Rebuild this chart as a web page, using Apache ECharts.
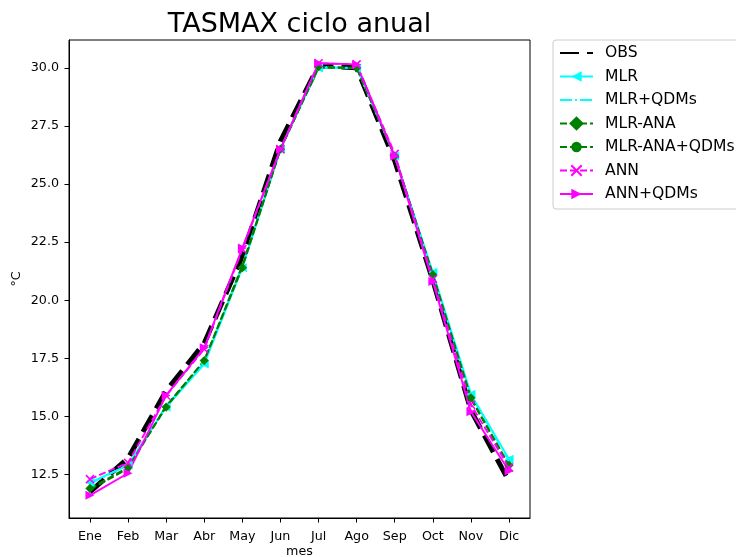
<!DOCTYPE html>
<html>
<head>
<meta charset="utf-8">
<script src="https://cdn.jsdelivr.net/npm/echarts@6/dist/echarts.min.js"></script>
<style>
  html, body { margin: 0; padding: 0; background: #fff; }
  #chart { width: 736px; height: 557px; }
</style>
</head>
<body>
<div id="chart"></div>
<script>
// Monthly mean of daily maximum temperature (°C), observed vs. downscaling methods
const months = ['Ene', 'Feb', 'Mar', 'Abr', 'May', 'Jun', 'Jul', 'Ago', 'Sep', 'Oct', 'Nov', 'Dic'];
const yTicks = [12.5, 15.0, 17.5, 20.0, 22.5, 25.0, 27.5, 30.0];

const obs        = [11.75, 13.2, 16.1, 18.15, 21.9, 26.85, 30.1, 30.0, 26.0, 20.85, 15.25, 12.2];
const mlr        = [12.15, 12.9, 15.4, 17.25, 21.4, 26.5, 30.0, 30.0, 26.2, 21.2, 15.95, 13.15];
const mlrQdm     = [12.1, 12.9, 15.45, 17.3, 21.5, 26.5, 30.05, 30.0, 26.2, 21.1, 15.9, 13.1];
const mlrAna     = [11.9, 12.8, 15.4, 17.4, 21.4, 26.5, 30.05, 30.0, 26.2, 21.1, 15.8, 12.9];
const mlrAnaQdm  = [11.85, 12.75, 15.45, 17.4, 21.5, 26.5, 30.0, 30.0, 26.2, 21.1, 15.75, 12.85];
const ann        = [12.3, 13.0, 15.9, 17.9, 22.2, 26.5, 30.2, 30.15, 26.3, 20.9, 15.5, 12.8];
const annQdm     = [11.6, 12.55, 15.9, 17.95, 22.25, 26.5, 30.2, 30.15, 26.2, 20.8, 15.2, 12.65];

const FONT = 'DejaVu Sans';
const CYAN = '#00ffff', GREEN = '#008000', MAGENTA = '#ff00ff';

function pairs(values) {
  return values.map((v, i) => [i, v]);
}

function lineSeries(name, values, color, width, dash, symbol, extra) {
  return Object.assign({
    name: name,
    type: 'line',
    data: pairs(values),
    symbol: symbol || 'none',
    symbolSize: 8,
    showSymbol: !!symbol,
    lineStyle: { color: color, width: width, type: dash || 'solid', cap: 'butt' },
    itemStyle: { color: color },
    emphasis: { disabled: true },
    animation: false
  }, extra || {});
}

const series = [
  lineSeries('OBS', obs, '#000000', 5, [19, 8], null),
  lineSeries('MLR', mlr, CYAN, 1.9, 'solid', 'triangle', { symbolRotate: 90, symbolSize: 9 }),
  lineSeries('MLR+QDMs', mlrQdm, CYAN, 1.9, [12, 3, 2, 3], null),
  lineSeries('MLR-ANA', mlrAna, GREEN, 1.9, [7, 3], 'rect', { symbolRotate: 45, symbolSize: 6.5 }),
  lineSeries('MLR-ANA+QDMs', mlrAnaQdm, GREEN, 1.9, [7, 3], 'circle', { symbolSize: 4 }),
  lineSeries('ANN', ann, MAGENTA, 1.9, [7, 3], 'path://M0,0L10,10M10,0L0,10', {
    symbolSize: 8,
    itemStyle: { color: MAGENTA, borderColor: MAGENTA, borderWidth: 1.6 }
  }),
  lineSeries('ANN+QDMs', annQdm, MAGENTA, 1.9, 'solid', 'triangle', { symbolRotate: -90, symbolSize: 9 })
];

// Legend entries: series drawn without markers show only their line
const legendData = series.map(s => s.showSymbol
  ? { name: s.name }
  : { name: s.name, itemStyle: { opacity: 0 } });

const axisTickStyle = { color: '#000', width: 1 };

const chart = echarts.init(document.getElementById('chart'), null, { renderer: 'canvas' });

chart.setOption({
  backgroundColor: '#ffffff',
  animation: false,
  textStyle: { fontFamily: FONT },
  title: {
    text: 'TASMAX ciclo anual',
    left: 294.5,
    top: 6,
    textAlign: 'center',
    textStyle: { fontFamily: FONT, fontSize: 27, fontWeight: 'normal', color: '#000' }
  },
  legend: {
    orient: 'vertical',
    left: 553,
    top: 40,
    padding: [5, 10, 7, 6],
    itemWidth: 33,
    itemHeight: 13,
    itemGap: 7.5,
    backgroundColor: '#ffffff',
    borderColor: '#cccccc',
    borderWidth: 1,
    borderRadius: 3,
    selectedMode: false,
    textStyle: { fontFamily: FONT, fontSize: 15.6, color: '#000', padding: [0, 0, 0, 7] },
    data: legendData
  },
  grid: {
    left: 69,
    top: 40,
    width: 461,
    height: 478,
    show: true,
    borderColor: '#000',
    borderWidth: 1,
    backgroundColor: 'transparent',
    containLabel: false,
    outerBoundsMode: 'none'
  },
  xAxis: {
    type: 'value',
    min: -0.55,
    max: 11.55,
    name: 'mes',
    nameLocation: 'middle',
    nameGap: 27,
    nameMoveOverlap: false,
    nameTextStyle: { fontFamily: FONT, fontSize: 12.7, color: '#000' },
    axisLine: { show: true, onZero: false, lineStyle: { color: '#000', width: 1 } },
    splitLine: { show: false },
    axisTick: { show: true, length: 4.5, inside: false, lineStyle: axisTickStyle, customValues: months.map((m, i) => i) },
    axisLabel: {
      margin: 12,
      fontFamily: FONT,
      fontSize: 12.7,
      color: '#000',
      customValues: months.map((m, i) => i),
      formatter: v => months[Math.round(v)]
    }
  },
  yAxis: {
    type: 'value',
    min: 10.625,
    max: 31.2,
    name: '°C',
    nameLocation: 'middle',
    nameGap: 46,
    nameMoveOverlap: false,
    nameRotate: 90,
    nameTextStyle: { fontFamily: FONT, fontSize: 12.7, color: '#000' },
    axisLine: { show: true, onZero: false, lineStyle: { color: '#000', width: 1 } },
    splitLine: { show: false },
    axisTick: { show: true, length: 4.5, inside: false, lineStyle: axisTickStyle, customValues: yTicks },
    axisLabel: {
      margin: 10,
      fontFamily: FONT,
      fontSize: 12.7,
      color: '#000',
      customValues: yTicks,
      formatter: v => v.toFixed(1)
    }
  },
  series: series
});
</script>
</body>
</html>
